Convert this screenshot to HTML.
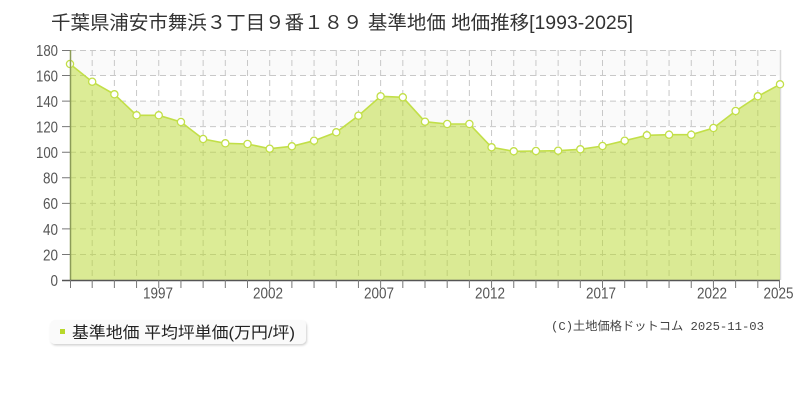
<!DOCTYPE html>
<html><head><meta charset="utf-8"><style>
html,body{margin:0;padding:0;background:#fff;}
svg{display:block;}
</style></head><body>
<svg width="800" height="400" viewBox="0 0 800 400" xmlns="http://www.w3.org/2000/svg">
<defs>
<filter id="sh" x="-5%" y="-20%" width="110%" height="150%">
<feDropShadow dx="1" dy="1.5" stdDeviation="1" flood-color="#000" flood-opacity="0.18"/>
</filter>
</defs>
<rect width="800" height="400" fill="#fff"/>
<text x="51" y="29" font-family="'Liberation Sans','Noto Sans CJK JP',sans-serif" font-size="19" fill="#333" textLength="582" lengthAdjust="spacingAndGlyphs">千葉県浦安市舞浜３丁目９番１８９ 基準地価 地価推移[1993-2025]</text>
<!-- bands -->
<g fill="#fafafa">
<rect x="70" y="50" width="710" height="25.56"/>
<rect x="70" y="101.11" width="710" height="25.56"/>
<rect x="70" y="152.22" width="710" height="25.56"/>
<rect x="70" y="203.33" width="710" height="25.56"/>
<rect x="70" y="254.44" width="710" height="25.56"/>
</g>
<!-- grid -->
<g stroke="#c8c8c8" stroke-width="1" stroke-dasharray="6,4" fill="none">
<path d="M70 50.5H780M70 75.56H780M70 101.11H780M70 126.67H780M70 152.22H780M70 177.78H780M70 203.33H780M70 228.89H780M70 254.44H780"/>
<path d="M92.19 50V280M114.38 50V280M136.56 50V280M158.75 50V280M180.94 50V280M203.13 50V280M225.31 50V280M247.5 50V280M269.69 50V280M291.88 50V280M314.06 50V280M336.25 50V280M358.44 50V280M380.63 50V280M402.81 50V280M425 50V280M447.19 50V280M469.38 50V280M491.56 50V280M513.75 50V280M535.94 50V280M558.13 50V280M580.31 50V280M602.5 50V280M624.69 50V280M646.88 50V280M669.06 50V280M691.25 50V280M713.44 50V280M735.63 50V280M757.81 50V280"/>
</g>
<line x1="780.5" y1="50" x2="780.5" y2="280" stroke="#dadada" stroke-width="1.5"/>
<!-- area -->
<polygon fill="#b9d92d" fill-opacity="0.5" points="70,280 70,64 92.19,81.7 114.38,94.3 136.56,115.3 158.75,115.3 180.94,122 203.13,139 225.31,143.3 247.5,144 269.69,148.7 291.88,146.3 314.06,140.7 336.25,132.3 358.44,115.7 380.63,96.3 402.81,97.3 425,121.7 447.19,124 469.38,124 491.56,147.3 513.75,151.3 535.94,151 558.13,150.7 580.31,149.3 602.5,146 624.69,140.7 646.88,135.3 669.06,134.7 691.25,134.7 713.44,128 735.63,111 757.81,96.3 780,84.3 780,280"/>
<polyline fill="none" stroke="#c2df48" stroke-width="1.6" points="70,64 92.19,81.7 114.38,94.3 136.56,115.3 158.75,115.3 180.94,122 203.13,139 225.31,143.3 247.5,144 269.69,148.7 291.88,146.3 314.06,140.7 336.25,132.3 358.44,115.7 380.63,96.3 402.81,97.3 425,121.7 447.19,124 469.38,124 491.56,147.3 513.75,151.3 535.94,151 558.13,150.7 580.31,149.3 602.5,146 624.69,140.7 646.88,135.3 669.06,134.7 691.25,134.7 713.44,128 735.63,111 757.81,96.3 780,84.3"/>
<g fill="#fff" stroke="#c2df48" stroke-width="1.3">
<circle cx="70" cy="64" r="3.6"/><circle cx="92.19" cy="81.7" r="3.6"/><circle cx="114.38" cy="94.3" r="3.6"/><circle cx="136.56" cy="115.3" r="3.6"/><circle cx="158.75" cy="115.3" r="3.6"/><circle cx="180.94" cy="122" r="3.6"/><circle cx="203.13" cy="139" r="3.6"/><circle cx="225.31" cy="143.3" r="3.6"/><circle cx="247.5" cy="144" r="3.6"/><circle cx="269.69" cy="148.7" r="3.6"/><circle cx="291.88" cy="146.3" r="3.6"/><circle cx="314.06" cy="140.7" r="3.6"/><circle cx="336.25" cy="132.3" r="3.6"/><circle cx="358.44" cy="115.7" r="3.6"/><circle cx="380.63" cy="96.3" r="3.6"/><circle cx="402.81" cy="97.3" r="3.6"/><circle cx="425" cy="121.7" r="3.6"/><circle cx="447.19" cy="124" r="3.6"/><circle cx="469.38" cy="124" r="3.6"/><circle cx="491.56" cy="147.3" r="3.6"/><circle cx="513.75" cy="151.3" r="3.6"/><circle cx="535.94" cy="151" r="3.6"/><circle cx="558.13" cy="150.7" r="3.6"/><circle cx="580.31" cy="149.3" r="3.6"/><circle cx="602.5" cy="146" r="3.6"/><circle cx="624.69" cy="140.7" r="3.6"/><circle cx="646.88" cy="135.3" r="3.6"/><circle cx="669.06" cy="134.7" r="3.6"/><circle cx="691.25" cy="134.7" r="3.6"/><circle cx="713.44" cy="128" r="3.6"/><circle cx="735.63" cy="111" r="3.6"/><circle cx="757.81" cy="96.3" r="3.6"/><circle cx="780" cy="84.3" r="3.6"/>
</g>
<!-- axes -->
<line x1="70.5" y1="50" x2="70.5" y2="280" stroke="#8c9c58" stroke-width="1.5"/>
<line x1="62" y1="280.5" x2="780" y2="280.5" stroke="#555" stroke-width="1.5"/>
<g stroke="#777" stroke-width="1">
<path d="M62 50.5H70M62 75.56H70M62 101.11H70M62 126.67H70M62 152.22H70M62 177.78H70M62 203.33H70M62 228.89H70M62 254.44H70"/>
<path d="M70.5 280V288M92.19 280V288M114.38 280V288M136.56 280V288M158.75 280V288M180.94 280V288M203.13 280V288M225.31 280V288M247.5 280V288M269.69 280V288M291.88 280V288M314.06 280V288M336.25 280V288M358.44 280V288M380.63 280V288M402.81 280V288M425 280V288M447.19 280V288M469.38 280V288M491.56 280V288M513.75 280V288M535.94 280V288M558.13 280V288M580.31 280V288M602.5 280V288M624.69 280V288M646.88 280V288M669.06 280V288M691.25 280V288M713.44 280V288M735.63 280V288M757.81 280V288M779.5 280V288"/>
</g>
<g font-family="'Liberation Sans',sans-serif" font-size="16" fill="#555" text-anchor="end">
<text x="58" y="56" textLength="22" lengthAdjust="spacingAndGlyphs">180</text>
<text x="58" y="81.5" textLength="22" lengthAdjust="spacingAndGlyphs">160</text>
<text x="58" y="107" textLength="22" lengthAdjust="spacingAndGlyphs">140</text>
<text x="58" y="132.6" textLength="22" lengthAdjust="spacingAndGlyphs">120</text>
<text x="58" y="158.1" textLength="22" lengthAdjust="spacingAndGlyphs">100</text>
<text x="58" y="183.7" textLength="15" lengthAdjust="spacingAndGlyphs">80</text>
<text x="58" y="209.2" textLength="15" lengthAdjust="spacingAndGlyphs">60</text>
<text x="58" y="234.8" textLength="15" lengthAdjust="spacingAndGlyphs">40</text>
<text x="58" y="260.3" textLength="15" lengthAdjust="spacingAndGlyphs">20</text>
<text x="58" y="285.9" textLength="7.5" lengthAdjust="spacingAndGlyphs">0</text>
</g>
<g font-family="'Liberation Sans',sans-serif" font-size="16" fill="#555">
<text x="143" y="298.5" textLength="30" lengthAdjust="spacingAndGlyphs">1997</text>
<text x="253" y="298.5" textLength="30" lengthAdjust="spacingAndGlyphs">2002</text>
<text x="364" y="298.5" textLength="30" lengthAdjust="spacingAndGlyphs">2007</text>
<text x="475" y="298.5" textLength="30" lengthAdjust="spacingAndGlyphs">2012</text>
<text x="586" y="298.5" textLength="30" lengthAdjust="spacingAndGlyphs">2017</text>
<text x="697" y="298.5" textLength="30" lengthAdjust="spacingAndGlyphs">2022</text>
<text x="763.5" y="298.5" textLength="30" lengthAdjust="spacingAndGlyphs">2025</text>
</g>
<!-- legend -->
<rect x="50" y="320" width="256" height="24" rx="5" fill="#fafafa" filter="url(#sh)"/>
<rect x="60" y="329" width="5" height="5" fill="#b8d82a"/>
<text x="72" y="338" font-family="'Liberation Sans','Noto Sans CJK JP',sans-serif" font-size="16" fill="#222" textLength="223" lengthAdjust="spacingAndGlyphs">基準地価 平均坪単価(万円/坪)</text>
<text x="551" y="330" font-family="'Liberation Mono','Noto Sans CJK JP',monospace" font-size="12" fill="#444" textLength="213" lengthAdjust="spacingAndGlyphs">(C)土地価格ドットコム 2025-11-03</text>
</svg>
</body></html>
